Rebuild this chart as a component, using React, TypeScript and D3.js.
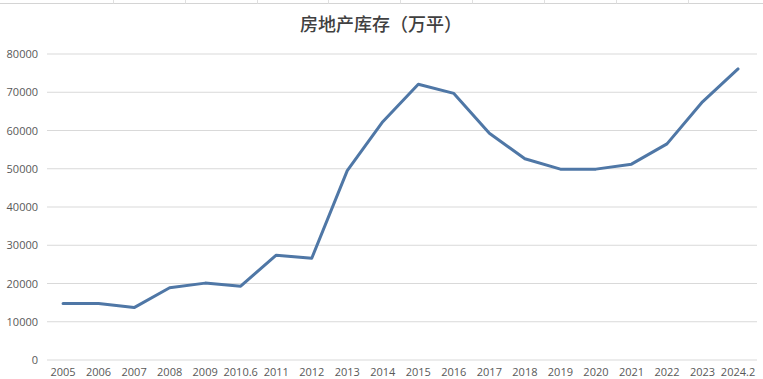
import React from "react";
import * as d3 from "d3";

const categories = ["2005","2006","2007","2008","2009","2010.6","2011","2012","2013","2014","2015","2016","2017","2018","2019","2020","2021","2022","2023","2024.2"];
const inventory = [14800,14800,13700,18900,20100,19300,27400,26600,49500,62300,72100,69700,59300,52600,49900,49900,51200,56500,67500,76100];
const yTicks = [0,10000,20000,30000,40000,50000,60000,70000,80000];
const title = "房地产库存（万平）";
const sheetCols = [113,185,257,328,400,472,544,616,688];

export default function App() {
  const W = 763, H = 379;
  const x = d3.scaleBand<string>().domain(categories).range([45.3, 755.8]);
  const y = d3.scaleLinear().domain([0, 80000]).range([360, 54]);
  const line = d3.line<number>()
    .x((_, i) => (x(categories[i]) as number) + x.bandwidth() / 2)
    .y(d => y(d));
  return (
    <svg width={W} height={H} style={{ position: "absolute", left: 0, top: 0, background: "#fff" }}>
      <rect x={0} y={0} width={W} height={H} fill="#fff" />
      <line x1={0} x2={W} y1={3.5} y2={3.5} stroke="#d4d4d4" strokeWidth={1} />
      {sheetCols.map(c => (
        <line key={c} x1={c + 0.5} x2={c + 0.5} y1={0} y2={3.5} stroke="#e0e0e0" strokeWidth={1} />
      ))}
      <text x={381} y={31} textAnchor="middle" fontFamily="'Noto Sans CJK SC'" fontWeight={500} fontSize={18} fill="#404040">{title}</text>
      {yTicks.map(t => (
        <g key={t}>
          <line x1={47} x2={757} y1={y(t)} y2={y(t)} stroke="#d9d9d9" strokeWidth={1} />
          <text x={38} y={y(t) + 4} textAnchor="end" fontFamily="'Open Sans', sans-serif" fontSize={11} fill="#595959">{t}</text>
        </g>
      ))}
      {categories.map(c => (
        <text key={c} x={(x(c) as number) + x.bandwidth() / 2} y={376} textAnchor="middle" fontFamily="'Open Sans', sans-serif" fontSize={11} fill="#595959">{c}</text>
      ))}
      <path d={line(inventory) || ""} fill="none" stroke="#4f77a6" strokeWidth={3} strokeLinejoin="round" strokeLinecap="round" />
    </svg>
  );
}
